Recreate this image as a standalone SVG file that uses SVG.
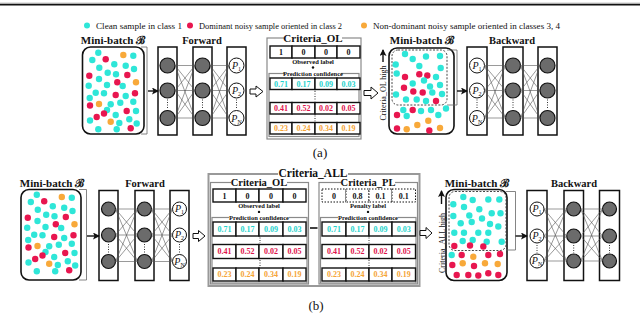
<svg xmlns="http://www.w3.org/2000/svg" xmlns:xlink="http://www.w3.org/1999/xlink" width="640" height="332" viewBox="0 0 640 332">
<style>
text{font-family:"Liberation Serif","Times New Roman",serif;fill:#111}
.b{font-weight:bold}
.lyr{fill:#fff;stroke:#111;stroke-width:1.5}
.nd{fill:#6b6b6b;stroke:#111;stroke-width:1.2}
.pn{fill:#fff;stroke:#111;stroke-width:1}
.cn line{stroke:#555;stroke-width:0.6}
.cell{fill:#fff;stroke:#111;stroke-width:1.4}
.dcell{fill:#fff;stroke:#111;stroke-width:1;stroke-dasharray:1.5,1.5}
.grp{fill:none;stroke:#8a8a8a;stroke-width:1.2}
.mb{fill:#fff;stroke:#111;stroke-width:1.6}
.dsh{fill:none;stroke:#333;stroke-width:0.9;stroke-dasharray:2,1.5}
.brk{fill:none;stroke:#666;stroke-width:0.8}
.vd{stroke:#333;stroke-width:1;stroke-dasharray:1,1.5}
.ha{fill:#fff;stroke:#111;stroke-width:1}
.ar{stroke:#111;stroke-width:1.4;fill:none}
.c{fill:#2ee6d8}.r{fill:#e8164f}.o{fill:#f8a93a}
.tc{fill:#1fd3cc}.tr{fill:#e0144c}.to{fill:#f5a436}
.v{font-size:8px;font-weight:bold;text-anchor:middle}
.sm{font-size:6.5px;font-weight:bold;text-anchor:middle}
.p{font-size:10px;font-style:italic;text-anchor:middle}
.p tspan{font-size:6px;font-style:normal}
</style>
<defs>
<marker id="ah" markerWidth="7" markerHeight="7" refX="6" refY="3.5" orient="auto" markerUnits="userSpaceOnUse">
<path d="M0,0 L7,3.5 L0,7 L1.5,3.5 Z" fill="#111"/>
</marker>
<g id="dotsA">
<circle class="c" cx="98.3" cy="52.7" r="3.2"/><circle class="o" cx="123.3" cy="55" r="3.2"/><circle class="c" cx="133.3" cy="55.7" r="3.2"/>
<circle class="c" cx="92.3" cy="60" r="3.2"/><circle class="r" cx="105.7" cy="59.3" r="3.2"/><circle class="c" cx="99.3" cy="67.7" r="3.2"/>
<circle class="c" cx="114.3" cy="64.3" r="3.2"/><circle class="c" cx="125.7" cy="65.7" r="3.2"/><circle class="c" cx="134" cy="69" r="3.2"/>
<circle class="r" cx="89.3" cy="75.7" r="3.2"/><circle class="c" cx="107.7" cy="72.7" r="3.2"/><circle class="c" cx="116" cy="74.3" r="3.2"/>
<circle class="r" cx="127.3" cy="75" r="3.2"/><circle class="c" cx="99" cy="79" r="3.2"/><circle class="r" cx="117.3" cy="82.3" r="3.2"/>
<circle class="o" cx="136" cy="82.3" r="3.2"/><circle class="c" cx="88.7" cy="85.7" r="3.2"/><circle class="c" cx="107" cy="85" r="3.2"/>
<circle class="c" cx="122.7" cy="86" r="3.2"/><circle class="c" cx="95.7" cy="92.7" r="3.2"/><circle class="c" cx="104" cy="93.3" r="3.2"/>
<circle class="r" cx="115.7" cy="95" r="3.2"/><circle class="c" cx="125.7" cy="96" r="3.2"/><circle class="r" cx="135" cy="93.3" r="3.2"/>
<circle class="c" cx="89.7" cy="98" r="3.2"/><circle class="c" cx="110.7" cy="104.3" r="3.2"/><circle class="c" cx="120.3" cy="102.7" r="3.2"/>
<circle class="c" cx="133.3" cy="101.7" r="3.2"/><circle class="r" cx="90" cy="105.5" r="3.2"/><circle class="o" cx="99" cy="104" r="3.2"/>
<circle class="c" cx="107" cy="110" r="3.2"/><circle class="r" cx="126.7" cy="111" r="3.2"/><circle class="c" cx="136" cy="111" r="3.2"/>
<circle class="r" cx="104" cy="113.5" r="3.2"/><circle class="r" cx="96.7" cy="117" r="3.2"/><circle class="c" cx="115.7" cy="115" r="3.2"/>
<circle class="c" cx="90" cy="120.5" r="3.2"/><circle class="c" cx="129.3" cy="119.3" r="3.2"/><circle class="o" cx="110.7" cy="121.7" r="3.2"/>
<circle class="c" cx="119.3" cy="123" r="3.2"/><circle class="c" cx="136.7" cy="123.5" r="3.2"/><circle class="c" cx="98.3" cy="129.3" r="3.2"/>
<circle class="c" cx="116.7" cy="129.3" r="3.2"/><circle class="r" cx="130.7" cy="128.3" r="3.2"/>
</g>
</defs>

<rect x="0" y="0" width="640" height="332" fill="#fff"/>
<line x1="0" y1="3" x2="640" y2="3" stroke="#bbb" stroke-width="0.8"/>
<line x1="0" y1="4.6" x2="640" y2="4.6" stroke="#111" stroke-width="1.6"/>

<g id="legend">
<circle class="c" cx="87" cy="25.5" r="3"/>
<text x="96" y="28.5" font-size="8.5" textLength="86" lengthAdjust="spacingAndGlyphs">Clean sample in class 1</text>
<circle class="r" cx="190" cy="25.5" r="3"/>
<text x="199" y="28.5" font-size="8.5" textLength="143" lengthAdjust="spacingAndGlyphs">Dominant noisy sample oriented in class 2</text>
<circle class="o" cx="364" cy="25.5" r="3"/>
<text x="373" y="28.5" font-size="8.5" textLength="187" lengthAdjust="spacingAndGlyphs">Non-dominant noisy sample oriented in classes 3, 4</text>
</g>

<!-- ===== Panel (a) ===== -->
<g id="a-minibatch-in">
<text class="b" x="113" y="43.5" font-size="11" text-anchor="middle">Mini-batch ℬ</text>
<rect class="mb" x="82.5" y="47" width="61.5" height="87" rx="8"/>
<use xlink:href="#dotsA"/>
<path class="brk" d="M141,47 H147 V134 H141"/>
</g>

<g id="a-forward">
<text class="b" x="202" y="43.5" font-size="10.5" text-anchor="middle">Forward</text>
<rect class="lyr" x="158" y="47" width="19" height="88"/>
<rect class="lyr" x="193" y="47" width="19" height="88"/>
<rect class="lyr" x="227" y="47" width="19" height="88"/>
<circle class="nd" cx="167.5" cy="65.5" r="7.5"/><circle class="nd" cx="167.5" cy="90.5" r="7.5"/><circle class="nd" cx="167.5" cy="118" r="7.5"/>
<circle class="nd" cx="202.5" cy="65.5" r="7.5"/><circle class="nd" cx="202.5" cy="90.5" r="7.5"/><circle class="nd" cx="202.5" cy="118" r="7.5"/>
<circle class="pn" cx="236.5" cy="65.5" r="7.5"/><circle class="pn" cx="236.5" cy="90.5" r="7.5"/><circle class="pn" cx="236.5" cy="118" r="7.5"/>
<text class="p" x="236.5" y="69">P<tspan dy="2">1</tspan></text>
<text class="p" x="236.5" y="94">P<tspan dy="2">2</tspan></text>
<text class="p" x="236.5" y="121.5">P<tspan dy="2">N</tspan></text>
<line class="vd" x1="167.5" y1="99.5" x2="167.5" y2="109"/><line class="vd" x1="202.5" y1="99.5" x2="202.5" y2="109"/><line class="vd" x1="236.5" y1="99.5" x2="236.5" y2="109"/>
</g>

<g id="a-criteria-ol">
<rect class="grp" x="267" y="38" width="94" height="101"/>
<rect x="284" y="32" width="58" height="12" fill="#fff"/>
<text class="b" x="313" y="42" font-size="11" text-anchor="middle">Criteria_OL</text>
<rect class="cell" x="270" y="46" width="22" height="12"/><rect class="cell" x="292" y="46" width="23" height="12"/><rect class="cell" x="315" y="46" width="22" height="12"/><rect class="cell" x="337" y="46" width="23" height="12"/>
<text class="v" x="281" y="55">1</text><text class="v" x="303.5" y="55">0</text><text class="v" x="326" y="55">0</text><text class="v" x="348.5" y="55">0</text>
<text class="sm" x="313" y="64">Observed label</text>
<circle cx="313" cy="67.5" r="1.2" fill="#111"/>
<rect class="grp" x="269" y="73.5" width="90" height="63" stroke-width="0.9"/>
<rect x="285" y="69" width="56" height="8" fill="#fff"/>
<text class="sm" x="313" y="75.5">Prediction confidence</text>
<rect class="cell" x="270" y="78" width="22" height="11.5"/><rect class="cell" x="292" y="78" width="23" height="11.5"/><rect class="cell" x="315" y="78" width="22" height="11.5"/><rect class="cell" x="337" y="78" width="23" height="11.5"/>
<text class="v tc" x="281" y="86.5">0.71</text><text class="v tc" x="303.5" y="86.5">0.17</text><text class="v tc" x="326" y="86.5">0.09</text><text class="v tc" x="348.5" y="86.5">0.03</text>
<line class="vd" x1="315" y1="91" x2="315" y2="101"/>
<rect class="cell" x="270" y="102.5" width="22" height="11.5"/><rect class="cell" x="292" y="102.5" width="23" height="11.5"/><rect class="cell" x="315" y="102.5" width="22" height="11.5"/><rect class="cell" x="337" y="102.5" width="23" height="11.5"/>
<text class="v tr" x="281" y="111">0.41</text><text class="v tr" x="303.5" y="111">0.52</text><text class="v tr" x="326" y="111">0.02</text><text class="v tr" x="348.5" y="111">0.05</text>
<line class="vd" x1="315" y1="115.5" x2="315" y2="121"/>
<rect class="cell" x="270" y="122.5" width="22" height="11.5"/><rect class="cell" x="292" y="122.5" width="23" height="11.5"/><rect class="cell" x="315" y="122.5" width="22" height="11.5"/><rect class="cell" x="337" y="122.5" width="23" height="11.5"/>
<text class="v to" x="281" y="131">0.23</text><text class="v to" x="303.5" y="131">0.24</text><text class="v to" x="326" y="131">0.34</text><text class="v to" x="348.5" y="131">0.19</text>
</g>

<g id="a-minibatch-out">
<text class="b" x="422" y="43.5" font-size="11" text-anchor="middle">Mini-batch ℬ</text>
<rect class="mb" x="389" y="48" width="65" height="86" rx="8"/>
<rect class="dsh" x="392" y="50" width="55" height="55" rx="6"/>
<path class="brk" d="M447,50 H457 V105 H447"/>
<line class="ar" x1="383" y1="62" x2="383" y2="50" marker-end="url(#ah)"/>
<text x="385.5" y="93" font-size="8" text-anchor="middle" transform="rotate(-90 385.5 93)">Criteria_OL high</text>
<g>
<circle class="c" cx="405" cy="54" r="3.2"/><circle class="c" cx="412.7" cy="59" r="3.2"/><circle class="c" cx="426" cy="56.5" r="3.2"/><circle class="c" cx="440" cy="56" r="3.2"/>
<circle class="c" cx="395.7" cy="64.5" r="3.2"/><circle class="c" cx="419.3" cy="66" r="3.2"/><circle class="c" cx="440.7" cy="68" r="3.2"/>
<circle class="c" cx="396.7" cy="73.5" r="3.2"/><circle class="r" cx="405" cy="77" r="3.2"/><circle class="r" cx="419.3" cy="74.3" r="3.2"/><circle class="r" cx="427.3" cy="75.5" r="3.2"/><circle class="c" cx="436" cy="77" r="3.2"/>
<circle class="c" cx="412.7" cy="83.5" r="3.2"/><circle class="c" cx="424" cy="80.5" r="3.2"/><circle class="r" cx="404" cy="87.7" r="3.2"/><circle class="c" cx="430" cy="86.5" r="3.2"/><circle class="c" cx="440" cy="85" r="3.2"/>
<circle class="r" cx="413.3" cy="91.5" r="3.2"/><circle class="r" cx="422.7" cy="92.5" r="3.2"/><circle class="c" cx="432.3" cy="92.5" r="3.2"/><circle class="c" cx="442" cy="94" r="3.2"/><circle class="c" cx="396" cy="94.5" r="3.2"/>
<circle class="c" cx="406" cy="99.5" r="3.2"/><circle class="c" cx="416.7" cy="99.5" r="3.2"/><circle class="c" cx="426" cy="101" r="3.2"/><circle class="r" cx="436" cy="101" r="3.2"/>
<circle class="c" cx="446" cy="108.5" r="3.2"/><circle class="c" cx="403.3" cy="110" r="3.2"/><circle class="r" cx="412.7" cy="110" r="3.2"/><circle class="c" cx="421" cy="111" r="3.2"/><circle class="c" cx="431" cy="110" r="3.2"/>
<circle class="r" cx="397" cy="115" r="3.2"/><circle class="c" cx="406.7" cy="116" r="3.2"/><circle class="c" cx="438.3" cy="115" r="3.2"/>
<circle class="o" cx="428.3" cy="120.7" r="3.2"/><circle class="o" cx="417.3" cy="125" r="3.2"/><circle class="o" cx="406.7" cy="129.3" r="3.2"/><circle class="r" cx="397" cy="128.5" r="3.2"/><circle class="r" cx="429.3" cy="130.5" r="3.2"/><circle class="o" cx="440" cy="128" r="3.2"/>
</g>
</g>

<g id="a-backward">
<text class="b" x="512" y="43.5" font-size="10.5" text-anchor="middle">Backward</text>
<rect class="lyr" x="467" y="47" width="20" height="88"/>
<rect class="lyr" x="503" y="47" width="20" height="88"/>
<rect class="lyr" x="538" y="47" width="19" height="88"/>
<circle class="pn" cx="477" cy="65.5" r="7.5"/><circle class="pn" cx="477" cy="90.5" r="7.5"/><circle class="pn" cx="477" cy="118" r="7.5"/>
<text class="p" x="477" y="69">P<tspan dy="2">1</tspan></text>
<text class="p" x="477" y="94">P<tspan dy="2">2</tspan></text>
<text class="p" x="477" y="121.5">P<tspan dy="2">N</tspan></text>
<circle class="nd" cx="513" cy="65.5" r="7.5"/><circle class="nd" cx="513" cy="90.5" r="7.5"/><circle class="nd" cx="513" cy="118" r="7.5"/>
<circle class="nd" cx="547.5" cy="65.5" r="7.5"/><circle class="nd" cx="547.5" cy="90.5" r="7.5"/><circle class="nd" cx="547.5" cy="118" r="7.5"/>
<line class="vd" x1="477" y1="99.5" x2="477" y2="109"/><line class="vd" x1="513" y1="99.5" x2="513" y2="109"/><line class="vd" x1="547.5" y1="99.5" x2="547.5" y2="109"/>
</g>

<text x="320" y="157" font-size="13" text-anchor="middle">(a)</text>

<!-- ===== Panel (b) ===== -->
<g id="b-minibatch-in">
<text class="b" x="52" y="186.5" font-size="11" text-anchor="middle">Mini-batch ℬ</text>
<use xlink:href="#dotsA" transform="translate(-61.5,142)"/>
<rect class="mb" x="21" y="189.5" width="60" height="90.5" rx="8" style="fill:none"/>
<path class="brk" d="M79,189.5 H86.5 V280 H79"/>
</g>

<g id="b-forward">
<text class="b" x="145" y="186.5" font-size="10.5" text-anchor="middle">Forward</text>
<rect class="lyr" x="99" y="190.5" width="19" height="90"/>
<rect class="lyr" x="135" y="190.5" width="19" height="90"/>
<rect class="lyr" x="170" y="190.5" width="19" height="90"/>
<circle class="nd" cx="108.5" cy="209" r="7"/><circle class="nd" cx="108.5" cy="235" r="7"/><circle class="nd" cx="108.5" cy="261.5" r="7"/>
<circle class="nd" cx="144.5" cy="209" r="7"/><circle class="nd" cx="144.5" cy="235" r="7"/><circle class="nd" cx="144.5" cy="261.5" r="7"/>
<circle class="pn" cx="179.5" cy="209" r="7"/><circle class="pn" cx="179.5" cy="235" r="7"/><circle class="pn" cx="179.5" cy="261.5" r="7"/>
<text class="p" x="179.5" y="212">P<tspan dy="2">1</tspan></text>
<text class="p" x="179.5" y="238">P<tspan dy="2">2</tspan></text>
<text class="p" x="179.5" y="264.5">P<tspan dy="2">N</tspan></text>
<line class="vd" x1="108.5" y1="244" x2="108.5" y2="253"/><line class="vd" x1="144.5" y1="244" x2="144.5" y2="253"/><line class="vd" x1="179.5" y1="244" x2="179.5" y2="253"/>
</g>

<g id="b-criteria-all">
<rect x="208.5" y="174" width="211" height="112" fill="none" stroke="#999" stroke-width="2"/>
<rect x="278" y="167" width="70" height="12" fill="#fff"/>
<text class="b" x="313" y="177" font-size="11.5" text-anchor="middle">Criteria_ALL</text>
<line x1="310" y1="228" x2="317.5" y2="228" stroke="#111" stroke-width="1.6"/>
</g>

<g id="b-criteria-ol">
<rect class="grp" x="210.5" y="182.5" width="98" height="101.5"/>
<rect x="231" y="179.5" width="56" height="7.5" fill="#fff"/>
<text class="b" x="259" y="186" font-size="10.5" text-anchor="middle">Criteria_OL</text>
<rect class="cell" x="213" y="189" width="23" height="13"/><rect class="cell" x="236" y="189" width="23" height="13"/><rect class="cell" x="259" y="189" width="24" height="13"/><rect class="cell" x="283" y="189" width="23" height="13"/>
<text class="v" x="224.5" y="198.5">1</text><text class="v" x="247.5" y="198.5">0</text><text class="v" x="271" y="198.5">0</text><text class="v" x="294.5" y="198.5">0</text>
<text class="sm" x="259" y="208">Observed label</text>
<circle cx="259" cy="212" r="1.2" fill="#111"/>
<rect class="grp" x="212" y="217.5" width="95" height="65.5" stroke-width="0.9"/>
<rect x="229" y="213" width="60" height="8" fill="#fff"/>
<text class="sm" x="259" y="219.5">Prediction confidence</text>
<rect class="cell" x="213" y="222" width="23" height="14"/><rect class="cell" x="236" y="222" width="23" height="14"/><rect class="cell" x="259" y="222" width="24" height="14"/><rect class="cell" x="283" y="222" width="23" height="14"/>
<text class="v tc" x="224.5" y="231.5">0.71</text><text class="v tc" x="247.5" y="231.5">0.17</text><text class="v tc" x="271" y="231.5">0.09</text><text class="v tc" x="294.5" y="231.5">0.03</text>
<line class="vd" x1="260" y1="237.5" x2="260" y2="243"/>
<rect class="cell" x="213" y="244.5" width="23" height="14"/><rect class="cell" x="236" y="244.5" width="23" height="14"/><rect class="cell" x="259" y="244.5" width="24" height="14"/><rect class="cell" x="283" y="244.5" width="23" height="14"/>
<text class="v tr" x="224.5" y="254">0.41</text><text class="v tr" x="247.5" y="254">0.52</text><text class="v tr" x="271" y="254">0.02</text><text class="v tr" x="294.5" y="254">0.05</text>
<line class="vd" x1="260" y1="260" x2="260" y2="266.5"/>
<rect class="cell" x="213" y="268" width="23" height="13"/><rect class="cell" x="236" y="268" width="23" height="13"/><rect class="cell" x="259" y="268" width="24" height="13"/><rect class="cell" x="283" y="268" width="23" height="13"/>
<text class="v to" x="224.5" y="277">0.23</text><text class="v to" x="247.5" y="277">0.24</text><text class="v to" x="271" y="277">0.34</text><text class="v to" x="294.5" y="277">0.19</text>
</g>

<g id="b-criteria-pl">
<rect class="grp" x="319" y="182.5" width="98.5" height="101.5"/>
<rect x="341" y="179.5" width="54" height="7.5" fill="#fff"/>
<text class="b" x="368" y="186" font-size="10.5" text-anchor="middle">Criteria_PL</text>
<rect class="dcell" x="322" y="189" width="24" height="13"/><rect class="dcell" x="346" y="189" width="23" height="13"/><rect class="dcell" x="369" y="189" width="23" height="13"/><rect class="dcell" x="392" y="189" width="23.5" height="13"/>
<text class="v" x="334" y="198.5" font-weight="normal">0</text><text class="v" x="357.5" y="198.5" font-weight="normal">0.8</text><text class="v" x="380.5" y="198.5" font-weight="normal">0.1</text><text class="v" x="403.8" y="198.5" font-weight="normal">0.1</text>
<text class="sm" x="368" y="208">Penalty label</text>
<circle cx="368" cy="212" r="1.2" fill="#111"/>
<rect class="grp" x="320.5" y="217.5" width="95.5" height="65.5" stroke-width="0.9"/>
<rect x="338" y="213" width="60" height="8" fill="#fff"/>
<text class="sm" x="368" y="219.5">Prediction confidence</text>
<rect class="cell" x="322" y="222" width="24" height="14"/><rect class="cell" x="346" y="222" width="23" height="14"/><rect class="cell" x="369" y="222" width="23" height="14"/><rect class="cell" x="392" y="222" width="23.5" height="14"/>
<text class="v tc" x="334" y="231.5">0.71</text><text class="v tc" x="357.5" y="231.5">0.17</text><text class="v tc" x="380.5" y="231.5">0.09</text><text class="v tc" x="403.8" y="231.5">0.03</text>
<line class="vd" x1="369" y1="237.5" x2="369" y2="243"/>
<rect class="cell" x="322" y="244.5" width="24" height="14"/><rect class="cell" x="346" y="244.5" width="23" height="14"/><rect class="cell" x="369" y="244.5" width="23" height="14"/><rect class="cell" x="392" y="244.5" width="23.5" height="14"/>
<text class="v tr" x="334" y="254">0.41</text><text class="v tr" x="357.5" y="254">0.52</text><text class="v tr" x="380.5" y="254">0.02</text><text class="v tr" x="403.8" y="254">0.05</text>
<line class="vd" x1="369" y1="260" x2="369" y2="266.5"/>
<rect class="cell" x="322" y="268" width="24" height="13"/><rect class="cell" x="346" y="268" width="23" height="13"/><rect class="cell" x="369" y="268" width="23" height="13"/><rect class="cell" x="392" y="268" width="23.5" height="13"/>
<text class="v to" x="334" y="277">0.23</text><text class="v to" x="357.5" y="277">0.24</text><text class="v to" x="380.5" y="277">0.34</text><text class="v to" x="403.8" y="277">0.19</text>
</g>

<g id="b-minibatch-out">
<text class="b" x="477" y="186.5" font-size="11" text-anchor="middle">Mini-batch ℬ</text>
<rect class="mb" x="446" y="189.5" width="61" height="91" rx="8"/>
<rect class="dsh" x="449" y="191.5" width="57" height="59" rx="6"/>
<path class="brk" d="M506,191.5 H515.5 V250 H506"/>
<line class="ar" x1="441.5" y1="204" x2="441.5" y2="191" marker-end="url(#ah)"/>
<text x="444.5" y="243" font-size="8" text-anchor="middle" transform="rotate(-90 444.5 243)">Criteria_ALL high</text>
<g>
<circle class="c" cx="463.3" cy="197" r="3.2"/><circle class="c" cx="472.7" cy="200" r="3.2"/><circle class="c" cx="488.3" cy="199.5" r="3.2"/><circle class="c" cx="499.3" cy="199.5" r="3.2"/>
<circle class="c" cx="453.3" cy="204.3" r="3.2"/><circle class="c" cx="464" cy="207" r="3.2"/><circle class="c" cx="479.3" cy="209.3" r="3.2"/><circle class="c" cx="491.7" cy="213.3" r="3.2"/><circle class="c" cx="500.5" cy="213.3" r="3.2"/>
<circle class="c" cx="453.3" cy="216" r="3.2"/><circle class="c" cx="469.3" cy="215.5" r="3.2"/><circle class="c" cx="482" cy="218.5" r="3.2"/>
<circle class="c" cx="460.7" cy="223.3" r="3.2"/><circle class="c" cx="471.7" cy="222" r="3.2"/><circle class="c" cx="490" cy="224" r="3.2"/><circle class="c" cx="498.3" cy="226.5" r="3.2"/>
<circle class="c" cx="454.3" cy="232.7" r="3.2"/><circle class="c" cx="464" cy="232.7" r="3.2"/><circle class="c" cx="478.3" cy="232.7" r="3.2"/><circle class="c" cx="488.3" cy="232.7" r="3.2"/>
<circle class="c" cx="462.7" cy="241" r="3.2"/><circle class="c" cx="472.7" cy="240" r="3.2"/><circle class="c" cx="486.7" cy="241.7" r="3.2"/><circle class="c" cx="501.7" cy="241.7" r="3.2"/>
<circle class="r" cx="454.3" cy="246" r="3.2"/><circle class="r" cx="470" cy="245.5" r="3.2"/><circle class="r" cx="483.3" cy="246.5" r="3.2"/>
<circle class="c" cx="451.7" cy="255" r="3.2"/><circle class="r" cx="461.7" cy="255" r="3.2"/><circle class="o" cx="473.3" cy="256.7" r="3.2"/><circle class="r" cx="488.3" cy="255" r="3.2"/><circle class="r" cx="500" cy="254" r="3.2"/>
<circle class="r" cx="452.3" cy="265" r="3.2"/><circle class="o" cx="462.7" cy="263.3" r="3.2"/><circle class="r" cx="474" cy="266" r="3.2"/><circle class="o" cx="485" cy="263.3" r="3.2"/><circle class="o" cx="497.7" cy="264" r="3.2"/>
<circle class="r" cx="456.7" cy="275" r="3.2"/><circle class="r" cx="468.3" cy="275" r="3.2"/><circle class="r" cx="478.3" cy="275.5" r="3.2"/><circle class="r" cx="488.3" cy="273.3" r="3.2"/><circle class="r" cx="498.3" cy="275" r="3.2"/>
</g>
</g>

<g id="b-backward">
<text class="b" x="574" y="186.5" font-size="10.5" text-anchor="middle">Backward</text>
<rect class="lyr" x="527" y="190.5" width="20" height="90"/>
<rect class="lyr" x="564" y="190.5" width="19.5" height="90"/>
<rect class="lyr" x="599.5" y="190.5" width="20" height="90"/>
<circle class="pn" cx="537" cy="209" r="7"/><circle class="pn" cx="537" cy="236" r="7"/><circle class="pn" cx="537" cy="261" r="7"/>
<text class="p" x="537" y="212">P<tspan dy="2">1</tspan></text>
<text class="p" x="537" y="239">P<tspan dy="2">2</tspan></text>
<text class="p" x="537" y="264">P<tspan dy="2">N</tspan></text>
<circle class="nd" cx="573.7" cy="209" r="7"/><circle class="nd" cx="573.7" cy="236" r="7"/><circle class="nd" cx="573.7" cy="261" r="7"/>
<circle class="nd" cx="609.5" cy="209" r="7"/><circle class="nd" cx="609.5" cy="236" r="7"/><circle class="nd" cx="609.5" cy="261" r="7"/>
<line class="vd" x1="537" y1="245" x2="537" y2="253"/><line class="vd" x1="573.7" y1="245" x2="573.7" y2="253"/><line class="vd" x1="609.5" y1="245" x2="609.5" y2="253"/>
</g>

<text x="316" y="310" font-size="13" text-anchor="middle">(b)</text>

<g id="connectors">
<g class="cn">
<line x1="175" y1="65.5" x2="195" y2="65.5"/><line x1="175" y1="65.5" x2="195" y2="90.5"/><line x1="175" y1="65.5" x2="195" y2="118"/>
<line x1="175" y1="90.5" x2="195" y2="65.5"/><line x1="175" y1="90.5" x2="195" y2="90.5"/><line x1="175" y1="90.5" x2="195" y2="118"/>
<line x1="175" y1="118" x2="195" y2="65.5"/><line x1="175" y1="118" x2="195" y2="90.5"/><line x1="175" y1="118" x2="195" y2="118"/>
<line x1="210" y1="65.5" x2="229" y2="65.5"/><line x1="210" y1="65.5" x2="229" y2="90.5"/><line x1="210" y1="65.5" x2="229" y2="118"/>
<line x1="210" y1="90.5" x2="229" y2="65.5"/><line x1="210" y1="90.5" x2="229" y2="90.5"/><line x1="210" y1="90.5" x2="229" y2="118"/>
<line x1="210" y1="118" x2="229" y2="65.5"/><line x1="210" y1="118" x2="229" y2="90.5"/><line x1="210" y1="118" x2="229" y2="118"/>
<line x1="484.5" y1="65.5" x2="505.5" y2="65.5"/><line x1="484.5" y1="65.5" x2="505.5" y2="90.5"/><line x1="484.5" y1="65.5" x2="505.5" y2="118"/>
<line x1="484.5" y1="90.5" x2="505.5" y2="65.5"/><line x1="484.5" y1="90.5" x2="505.5" y2="90.5"/><line x1="484.5" y1="90.5" x2="505.5" y2="118"/>
<line x1="484.5" y1="118" x2="505.5" y2="65.5"/><line x1="484.5" y1="118" x2="505.5" y2="90.5"/><line x1="484.5" y1="118" x2="505.5" y2="118"/>
<line x1="520.5" y1="65.5" x2="540" y2="65.5"/><line x1="520.5" y1="65.5" x2="540" y2="90.5"/><line x1="520.5" y1="65.5" x2="540" y2="118"/>
<line x1="520.5" y1="90.5" x2="540" y2="65.5"/><line x1="520.5" y1="90.5" x2="540" y2="90.5"/><line x1="520.5" y1="90.5" x2="540" y2="118"/>
<line x1="520.5" y1="118" x2="540" y2="65.5"/><line x1="520.5" y1="118" x2="540" y2="90.5"/><line x1="520.5" y1="118" x2="540" y2="118"/>
<line x1="115.5" y1="209" x2="137.5" y2="209"/><line x1="115.5" y1="209" x2="137.5" y2="235"/><line x1="115.5" y1="209" x2="137.5" y2="261.5"/>
<line x1="115.5" y1="235" x2="137.5" y2="209"/><line x1="115.5" y1="235" x2="137.5" y2="235"/><line x1="115.5" y1="235" x2="137.5" y2="261.5"/>
<line x1="115.5" y1="261.5" x2="137.5" y2="209"/><line x1="115.5" y1="261.5" x2="137.5" y2="235"/><line x1="115.5" y1="261.5" x2="137.5" y2="261.5"/>
<line x1="151.5" y1="209" x2="172.5" y2="209"/><line x1="151.5" y1="209" x2="172.5" y2="235"/><line x1="151.5" y1="209" x2="172.5" y2="261.5"/>
<line x1="151.5" y1="235" x2="172.5" y2="209"/><line x1="151.5" y1="235" x2="172.5" y2="235"/><line x1="151.5" y1="235" x2="172.5" y2="261.5"/>
<line x1="151.5" y1="261.5" x2="172.5" y2="209"/><line x1="151.5" y1="261.5" x2="172.5" y2="235"/><line x1="151.5" y1="261.5" x2="172.5" y2="261.5"/>
<line x1="544" y1="209" x2="566.7" y2="209"/><line x1="544" y1="209" x2="566.7" y2="236"/><line x1="544" y1="209" x2="566.7" y2="261"/>
<line x1="544" y1="236" x2="566.7" y2="209"/><line x1="544" y1="236" x2="566.7" y2="236"/><line x1="544" y1="236" x2="566.7" y2="261"/>
<line x1="544" y1="261" x2="566.7" y2="209"/><line x1="544" y1="261" x2="566.7" y2="236"/><line x1="544" y1="261" x2="566.7" y2="261"/>
<line x1="580.7" y1="209" x2="602.5" y2="209"/><line x1="580.7" y1="209" x2="602.5" y2="236"/><line x1="580.7" y1="209" x2="602.5" y2="261"/>
<line x1="580.7" y1="236" x2="602.5" y2="209"/><line x1="580.7" y1="236" x2="602.5" y2="236"/><line x1="580.7" y1="236" x2="602.5" y2="261"/>
<line x1="580.7" y1="261" x2="602.5" y2="209"/><line x1="580.7" y1="261" x2="602.5" y2="236"/><line x1="580.7" y1="261" x2="602.5" y2="261"/>
</g>
<line class="ar" x1="148" y1="91" x2="158" y2="91" marker-end="url(#ah)"/>
<line class="ar" x1="457" y1="91" x2="467" y2="91" marker-end="url(#ah)"/>
<line class="ar" x1="87" y1="236" x2="99" y2="236" marker-end="url(#ah)"/>
<line class="ar" x1="515.5" y1="236" x2="527" y2="236" marker-end="url(#ah)"/>
<path class="ha" d="M250,89 H256 V86 L263,91.5 L256,97 V94 H250 Z"/>
<path class="ha" d="M364,90.5 H371 V87 L378,93 L371,99 V95.5 H364 Z"/>
<path class="ha" d="M193,233.5 H198.5 V230.5 L205,236 L198.5,241.5 V238.5 H193 Z"/>
<path class="ha" d="M420,230.5 H426 V227.5 L432,233 L426,238.5 V235.5 H420 Z"/>
</g>
</svg>
